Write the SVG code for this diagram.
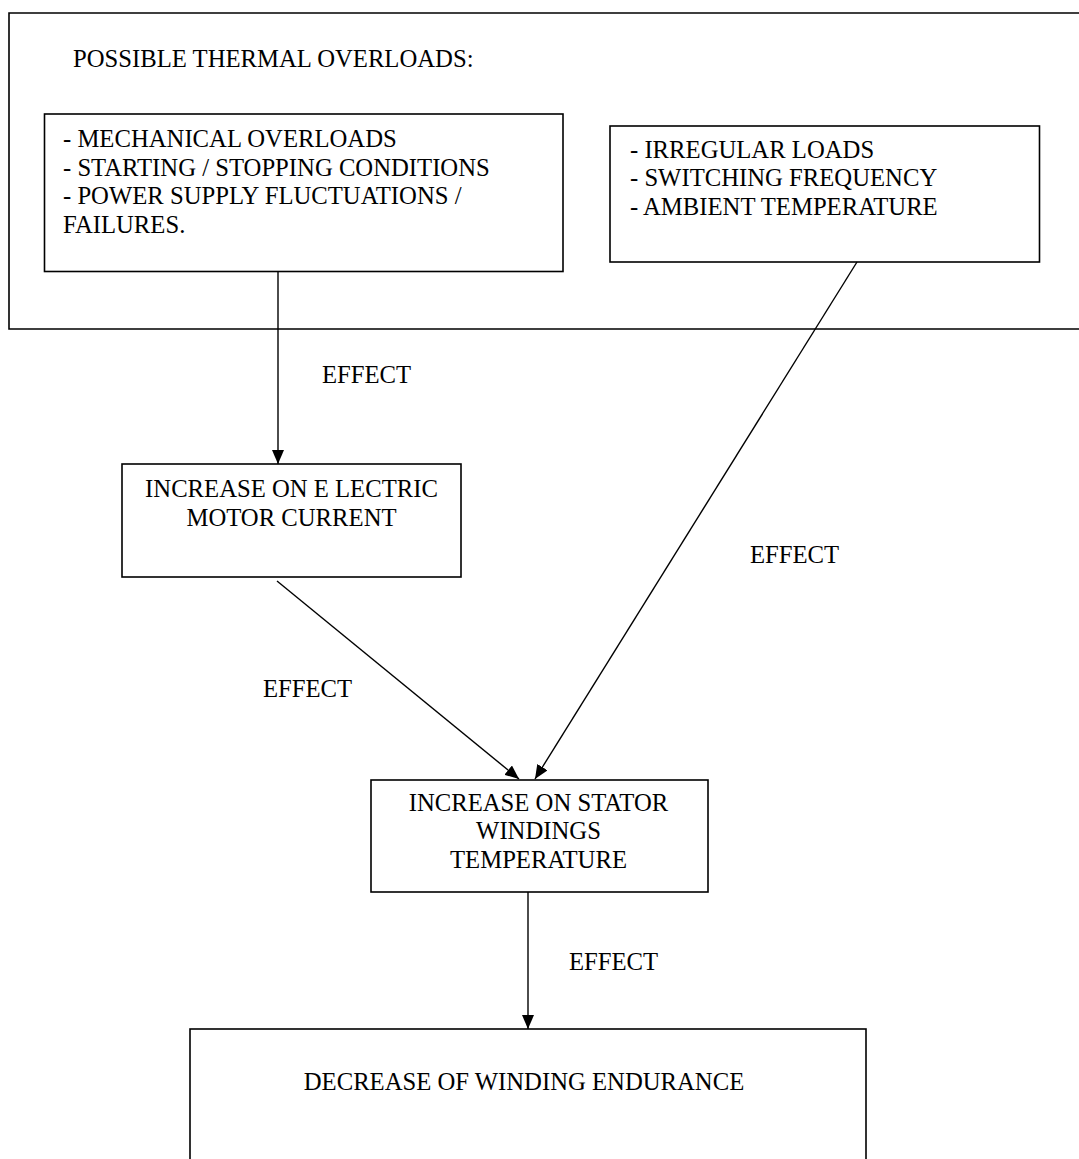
<svg xmlns="http://www.w3.org/2000/svg" width="1079" height="1159" viewBox="0 0 1079 1159">
<style>
  .box { fill: #fff; stroke: #000; stroke-width: 1.6; }
  .frame { fill: none; stroke: #000; stroke-width: 1.6; }
  .t { font-family: "Liberation Serif", "Times New Roman", serif; font-size: 24.7px; fill: #000; }
  .c { text-anchor: middle; }
  .conn { stroke: #000; stroke-width: 1.4; fill: none; marker-end: url(#ah); }
</style>
<defs>
  <marker id="ah" markerUnits="userSpaceOnUse" markerWidth="14" markerHeight="12" refX="14" refY="6" orient="auto">
    <path d="M0,0 L14,6 L0,12 z" fill="#000"/>
  </marker>
</defs>
<rect width="1079" height="1159" fill="#fff"/>

<g id="overloads-frame">
  <path class="frame" d="M1085,13 L9,13 L9,329 L1085,329"/>
  <text class="t" x="73" y="67">POSSIBLE THERMAL OVERLOADS:</text>
</g>

<g id="node-mechanical">
  <rect class="box" x="44.5" y="114" width="518.5" height="157.5"/>
  <text class="t" x="63" y="147">- MECHANICAL OVERLOADS</text>
  <text class="t" x="63" y="175.5">- STARTING / STOPPING CONDITIONS</text>
  <text class="t" x="63" y="204">- POWER SUPPLY FLUCTUATIONS /</text>
  <text class="t" x="63" y="232.5">FAILURES.</text>
</g>

<g id="node-irregular">
  <rect class="box" x="610" y="126" width="429.5" height="136"/>
  <text class="t" x="630" y="157.5">- IRREGULAR LOADS</text>
  <text class="t" x="630" y="186">- SWITCHING FREQUENCY</text>
  <text class="t" x="630" y="215">- AMBIENT TEMPERATURE</text>
</g>

<g id="node-current">
  <rect class="box" x="122" y="464" width="339" height="113"/>
  <text class="t c" x="291.5" y="497">INCREASE ON E LECTRIC</text>
  <text class="t c" x="291.5" y="525.5">MOTOR CURRENT</text>
</g>

<g id="node-stator">
  <rect class="box" x="371" y="780" width="337" height="112"/>
  <text class="t c" x="538.5" y="810.5">INCREASE ON STATOR</text>
  <text class="t c" x="538.5" y="839">WINDINGS</text>
  <text class="t c" x="538.5" y="868">TEMPERATURE</text>
</g>

<g id="node-endurance">
  <rect class="box" x="190" y="1029" width="676" height="140"/>
  <text class="t c" x="524" y="1090">DECREASE OF WINDING ENDURANCE</text>
</g>

<g id="connectors">
  <line class="conn" x1="278" y1="272" x2="278" y2="464"/>
  <line class="conn" x1="277" y1="581" x2="519" y2="779"/>
  <line class="conn" x1="857" y1="262" x2="535" y2="779"/>
  <line class="conn" x1="528" y1="892" x2="528" y2="1029"/>
  <text class="t" x="322" y="383">EFFECT</text>
  <text class="t" x="263" y="697">EFFECT</text>
  <text class="t" x="750" y="563">EFFECT</text>
  <text class="t" x="569" y="970">EFFECT</text>
</g>
</svg>
